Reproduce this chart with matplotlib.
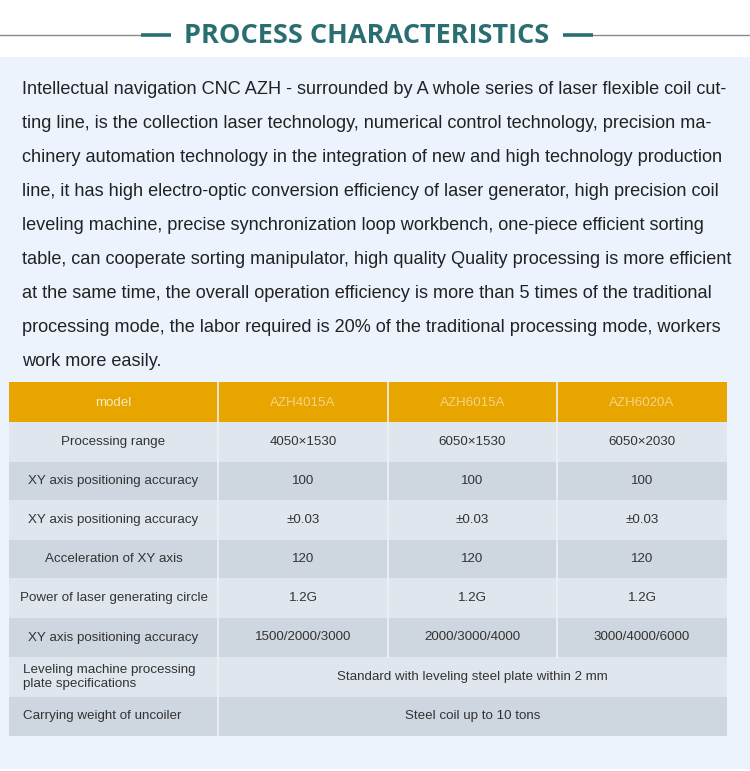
import matplotlib
matplotlib.use("Agg")
import matplotlib.pyplot as plt
from matplotlib.patches import Rectangle

W, H = 750, 771
DPI = 100

title = "PROCESS CHARACTERISTICS"
paragraph_lines = [
    "Intellectual navigation CNC AZH - surrounded by A whole series of laser flexible coil cut-",
    "ting line, is the collection laser technology, numerical control technology, precision ma-",
    "chinery automation technology in the integration of new and high technology production",
    "line, it has high electro-optic conversion efficiency of laser generator, high precision coil",
    "leveling machine, precise synchronization loop workbench, one-piece efficient sorting",
    "table, can cooperate sorting manipulator, high quality Quality processing is more efficient",
    "at the same time, the overall operation efficiency is more than 5 times of the traditional",
    "processing mode, the labor required is 20% of the traditional processing mode, workers",
    "work more easily.",
]
header_label = "model"
models = ["AZH4015A", "AZH6015A", "AZH6020A"]
row_labels = [
    "Processing range",
    "XY axis positioning accuracy",
    "XY axis positioning accuracy",
    "Acceleration of XY axis",
    "Power of laser generating circle",
    "XY axis positioning accuracy",
]
row_values = [
    ["4050×1530", "6050×1530", "6050×2030"],
    ["100", "100", "100"],
    ["±0.03", "±0.03", "±0.03"],
    ["120", "120", "120"],
    ["1.2G", "1.2G", "1.2G"],
    ["1500/2000/3000", "2000/3000/4000", "3000/4000/6000"],
]
merged_labels = ["Leveling machine processing\nplate specifications", "Carrying weight of uncoiler"]
merged_values = ["Standard with leveling steel plate within 2 mm", "Steel coil up to 10 tons"]

fig = plt.figure(figsize=(W / DPI, H / DPI), dpi=DPI)
ax = fig.add_axes([0, 0, 1, 1])
ax.set_xlim(0, W)
ax.set_ylim(H, 0)
ax.axis("off")
fig.patch.set_facecolor("white")

teal = "#2B6E72"
bg = "#ECF3FD"
orange = "#E8A500"
light_row = "#DFE6EE"
dark_row = "#CED6DF"
txt = "#333333"

# background panel
ax.add_patch(Rectangle((0, 57), W, 712, facecolor=bg, edgecolor="none", zorder=0))

# title with lines
ax.plot([0, 141], [35, 35], color="#8A8A8A", lw=1.0, zorder=1)
ax.plot([593, W], [35, 35], color="#8A8A8A", lw=1.0, zorder=1)
ax.plot([141, 171], [35, 35], color=teal, lw=2.6, solid_capstyle="butt", zorder=2)
ax.plot([563, 593], [35, 35], color=teal, lw=2.6, solid_capstyle="butt", zorder=2)
t = ax.text(367, 36, title, ha="center", va="center", color=teal,
            fontsize=20, fontweight="bold", family="Open Sans", fontstretch="condensed")

fig.canvas.draw()
r = fig.canvas.get_renderer()
bb = t.get_window_extent(r)
t.set_fontsize(20 * 365 / bb.width)

# paragraph
p0 = ax.text(22, 89, paragraph_lines[0], ha="left", va="center", color="#222222",
             fontsize=13, family="Liberation Sans")
fig.canvas.draw()
bb = p0.get_window_extent(r)
psize = 13 * 703 / bb.width
p0.set_fontsize(psize)
for i, line in enumerate(paragraph_lines[1:], start=1):
    ax.text(22, 89 + 34 * i, line, ha="left", va="center", color="#222222",
            fontsize=psize, family="Liberation Sans")

# table geometry
x_edges = [9, 218, 388, 557, 727]
y_edges = [382, 422, 462, 500, 540, 578, 618, 657, 697, 736]
tfs = 9.6

# header
ax.add_patch(Rectangle((x_edges[0], y_edges[0]), x_edges[-1] - x_edges[0],
                       y_edges[1] - y_edges[0], facecolor=orange, edgecolor="none", zorder=1))
hy = (y_edges[0] + y_edges[1]) / 2 + 1
ax.text((x_edges[0] + x_edges[1]) / 2, hy, header_label, ha="center", va="center",
        color="#F8E9BE", fontsize=tfs, family="Liberation Sans")
for j, m in enumerate(models):
    ax.text((x_edges[j + 1] + x_edges[j + 2]) / 2, hy, m, ha="center", va="center",
            color="#F3D486", fontsize=tfs, family="Liberation Sans")

n_rows = len(row_labels) + len(merged_labels)
for i in range(n_rows):
    y0, y1 = y_edges[i + 1], y_edges[i + 2]
    col = light_row if i % 2 == 0 else dark_row
    ax.add_patch(Rectangle((x_edges[0], y0), x_edges[-1] - x_edges[0], y1 - y0,
                           facecolor=col, edgecolor="none", zorder=1))
    yc = (y0 + y1) / 2
    if i < len(row_labels):
        ax.text((x_edges[0] + x_edges[1]) / 2, yc, row_labels[i], ha="center", va="center",
                color=txt, fontsize=tfs, family="Liberation Sans", zorder=3)
        for j, v in enumerate(row_values[i]):
            ax.text((x_edges[j + 1] + x_edges[j + 2]) / 2, yc, v, ha="center", va="center",
                    color=txt, fontsize=tfs, family="Liberation Sans", zorder=3)
    else:
        k = i - len(row_labels)
        ax.text(x_edges[0] + 14, yc, merged_labels[k], ha="left", va="center",
                color=txt, fontsize=tfs, family="Liberation Sans", linespacing=1.15, zorder=3)
        ax.text((x_edges[1] + x_edges[-1]) / 2, yc, merged_values[k], ha="center", va="center",
                color=txt, fontsize=tfs, family="Liberation Sans", zorder=3)

# column separators
ax.plot([x_edges[1], x_edges[1]], [y_edges[0], y_edges[-1]], color="#EEF2F6", lw=1.2, zorder=2)
for xe in x_edges[2:4]:
    ax.plot([xe, xe], [y_edges[0], y_edges[-3]], color="#EEF2F6", lw=1.2, zorder=2)

fig.savefig("out.png", dpi=DPI, facecolor="white")
